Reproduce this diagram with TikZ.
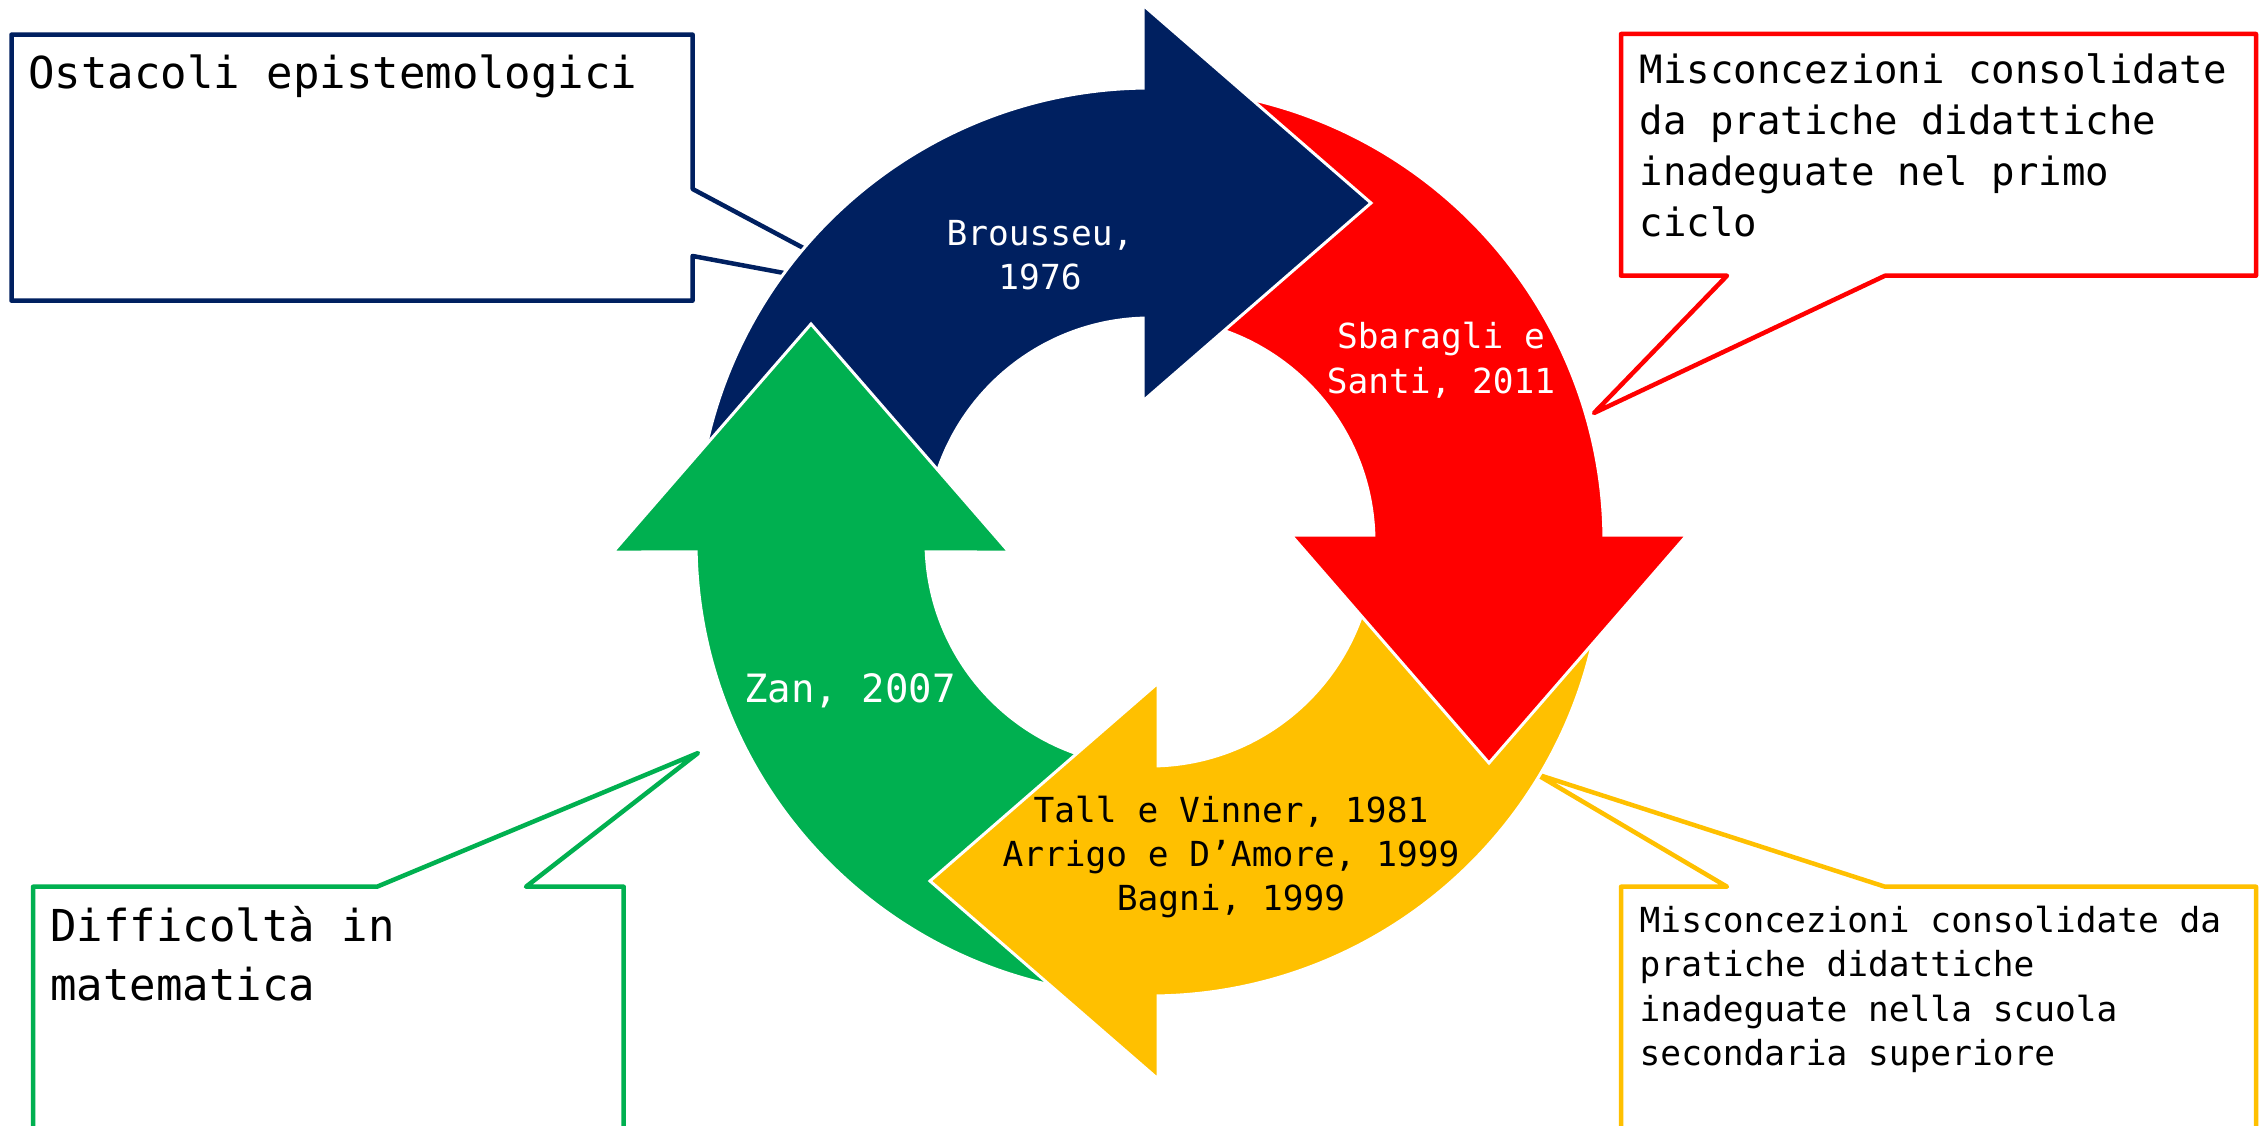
\documentclass[tikz,border=0pt]{standalone}
\usepackage{fontspec}
\setmainfont{DejaVu Sans Mono}
\usetikzlibrary{calc}

\definecolor{navy}{HTML}{002060}
\definecolor{cred}{HTML}{FF0000}
\definecolor{amber}{HTML}{FFC000}
\definecolor{leaf}{HTML}{00B050}

% stacked lines whose baseline is the first line
\newcommand\leftlines[1]{\begin{tabular}[t]{@{}l@{}}#1\end{tabular}}
\newcommand\midlines[1]{\begin{tabular}[t]{@{}c@{}}#1\end{tabular}}

% one curved arrow of the ring (y axis points down, growing angles run clockwise)
% #1 = axis direction of the head base, #2 = shift of the head base towards the tail,
% #3 = colour
\newcommand\ringarrow[3]{%
  \path[arrowbody, fill=#3]
    ($(C)+(#1-82:454)$) arc[start angle=#1-82, end angle={#1-asin(#2/454)}, radius=454]
    -- ($(C)+(#1:339)+(#1-90:#2)+(#1:198)$)
    -- ($(C)+(#1:339)+(#1-90:#2)+(#1+90:228)$)
    -- ($(C)+(#1:339)+(#1-90:#2)+(#1:-198)$)
    -- ($(C)+({#1-asin(#2/224)}:224)$) arc[start angle={#1-asin(#2/224)}, end angle=#1-82, radius=224]
    -- cycle;}

\tikzset{
  arrowbody/.style={draw=white, line width=3pt, line join=miter},
  callout/.style={fill=white, line width=4.5pt, line join=round},
  boxtext/.style={inner sep=0pt, anchor=base west, text=black},
  ringtext/.style={inner sep=0pt, anchor=base, font=\fontsize{34.5}{44}\selectfont},
}

\begin{document}
\begin{tikzpicture}[x=1pt, y=-1pt]
  \clip (0,0) rectangle (2265,1126);
  \fill[white] (0,0) rectangle (2265,1126);
  \coordinate (C) at (1150,542);

  % callouts (behind the ring)
  \coordinate (tipA) at (886,292);
  \coordinate (tipB) at (1594,413);
  \coordinate (tipC) at (1536,774);
  \coordinate (tipD) at (698,753);
  \draw[callout, draw=navy] (11.5,34.6) -- (692.6,34.6) -- (692.6,189) -- (tipA)
    -- (692.6,256) -- (692.6,300.7) -- (11.5,300.7) -- cycle;
  \draw[callout, draw=cred] (1621,34) -- (2256,34) -- (2256,275.7) -- (1885,275.7)
    -- (tipB) -- (1727,275.7) -- (1621,275.7) -- cycle;
  \draw[callout, draw=amber] (1621,886.7) -- (1727,886.7) -- (tipC) -- (1885,886.7)
    -- (2256,886.7) -- (2256,1150) -- (1621,1150) -- cycle;
  \draw[callout, draw=leaf] (33,886.7) -- (377,886.7) -- (tipD) -- (526,886.7)
    -- (623.7,886.7) -- (623.7,1150) -- (33,1150) -- cycle;

  % the ring of four arrows
  \ringarrow{180}{10}{leaf}
  \ringarrow{90}{8}{amber}
  \ringarrow{0}{7}{cred}
  \ringarrow{-90}{7}{navy}
  % green head lies over the tail of the blue arrow
  \begin{scope}
    \clip (560,552) rectangle (1060,250);
    \ringarrow{180}{10}{leaf}
  \end{scope}

  % callout texts
  \node[boxtext, font=\fontsize{44}{57}\selectfont] (ost) at (28,89) {Ostacoli epistemologici};
  \node[boxtext, font=\fontsize{39}{51}\selectfont] (prim) at (1639.5,84)
    {\leftlines{Misconcezioni consolidate\\da pratiche didattiche\\inadeguate nel primo\\ciclo}};
  \node[boxtext, font=\fontsize{34.5}{44.5}\selectfont] (sec) at (1639.5,932)
    {\leftlines{Misconcezioni consolidate da\\pratiche didattiche\\inadeguate nella scuola\\secondaria superiore}};
  \node[boxtext, font=\fontsize{44}{59}\selectfont] (diff) at (50,941)
    {\leftlines{Difficoltà in\\matematica}};

  % ring labels
  \node[ringtext, text=white] (bro) at (1040,245) {\midlines{Brousseu,\\1976}};
  \node[ringtext, text=white, font=\fontsize{34.5}{45}\selectfont] (sba) at (1441,348)
    {\midlines{Sbaragli e\\Santi, 2011}};
  \node[ringtext, text=black] (tal) at (1231,822)
    {\midlines{Tall e Vinner, 1981\\Arrigo e D’Amore, 1999\\Bagni, 1999}};
  \node[ringtext, text=white, font=\fontsize{39}{50}\selectfont] (zan) at (850,702.6) {Zan, 2007};
\end{tikzpicture}
\end{document}
